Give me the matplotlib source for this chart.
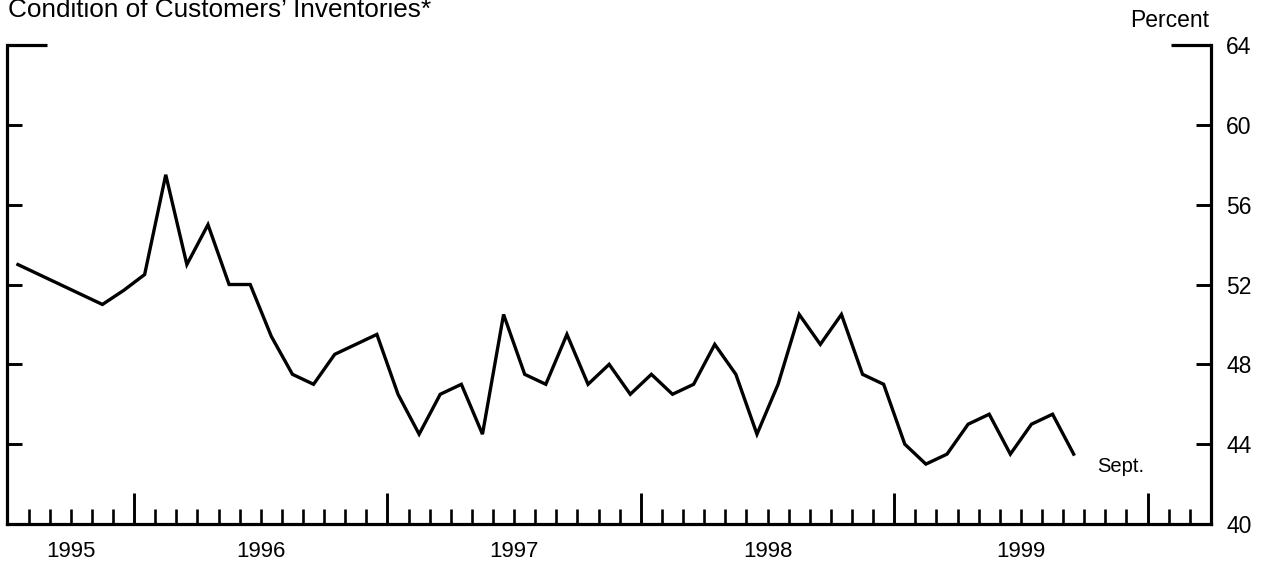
import numpy as np
import pandas as pd
import matplotlib
matplotlib.use('Agg')
import matplotlib.pyplot as plt
from matplotlib.ticker import FixedLocator, NullFormatter

# monthly readings, July 1995 through September 1999 (percent)
start_month = '1995-07'
end_month = '1999-09'
values_1995 = [53.0, 52.5, 52.0, 51.5, 51.0, 51.7]
values_1996 = [52.5, 57.5, 53.0, 55.0, 52.0, 52.0, 49.4, 47.5, 47.0, 48.5, 49.0, 49.5]
values_1997 = [46.5, 44.5, 46.5, 47.0, 44.5, 50.5, 47.5, 47.0, 49.5, 47.0, 48.0, 46.5]
values_1998 = [47.5, 46.5, 47.0, 49.0, 47.5, 44.5, 47.0, 50.5, 49.0, 50.5, 47.5, 47.0]
values_1999 = [44.0, 43.0, 43.5, 45.0, 45.5, 43.5, 45.0, 45.5, 43.5]

year_labels = ['1995', '1996', '1997', '1998', '1999']
y_ticks = [40, 44, 48, 52, 56, 60, 64]

title = "Condition of Customers\u2019 Inventories*"
unit_label = 'Percent'
end_label = 'Sept.'

plt.rcParams['font.family'] = ['Liberation Sans', 'DejaVu Sans']


def main():
    values = values_1995 + values_1996 + values_1997 + values_1998 + values_1999
    months = pd.period_range(start_month, end_month, freq='M')
    # place each reading in the middle of its month
    x = np.array([m.year + (m.month - 0.5) / 12.0 for m in months])

    fig = plt.figure(figsize=(12.74, 5.63), dpi=100)
    ax = fig.add_axes([0.0058, 0.0693, 0.9447, 0.8507])

    ax.plot(x, values, color='black', lw=2.4, solid_joinstyle='miter')

    x0, x1 = 1995.5, 2000.25
    ax.set_xlim(x0, x1)
    ax.set_ylim(40, 64)

    for side in ['left', 'right', 'bottom']:
        ax.spines[side].set_linewidth(2.3)
    ax.spines['top'].set_visible(False)

    # x axis: long ticks at year boundaries, short ones every month
    ax.xaxis.set_major_locator(FixedLocator([1996, 1997, 1998, 1999, 2000]))
    ax.xaxis.set_minor_locator(FixedLocator(np.arange(1995.5, 2000.25, 1 / 12.0)))
    ax.xaxis.set_major_formatter(NullFormatter())
    ax.tick_params(axis='x', which='major', direction='in', length=22.5, width=2.1)
    ax.tick_params(axis='x', which='minor', direction='in', length=11, width=1.9)

    centers = [(x0 + 1996) / 2] + [int(y) + 0.5 for y in year_labels[1:]]
    for cx, lab in zip(centers, year_labels):
        ax.text(cx, -0.036, lab, transform=ax.get_xaxis_transform(),
                ha='center', va='top', fontsize=16)

    # y axis: ticks on both sides, labels on the right, long bracket at the top
    ax.yaxis.remove_overlapping_locs = False
    ax.set_yticks(y_ticks)
    ax.yaxis.set_minor_locator(FixedLocator([64]))
    ax.tick_params(axis='y', which='major', direction='in', length=11, width=2.1,
                   left=True, right=True, labelleft=False, labelright=True,
                   labelsize=16.5, pad=11)
    ax.tick_params(axis='y', which='minor', direction='in', length=29, width=2.3,
                   left=True, right=True)

    ax.text(1999.80, 42.9, end_label, ha='left', va='center', fontsize=14.5)

    fig.text(0.0063, 0.970, title, ha='left', va='baseline', fontsize=18.8)
    fig.text(0.949, 0.9526, unit_label, ha='right', va='baseline', fontsize=16.5)

    fig.savefig('out.png', dpi=100)


if __name__ == "__main__":
    main()
